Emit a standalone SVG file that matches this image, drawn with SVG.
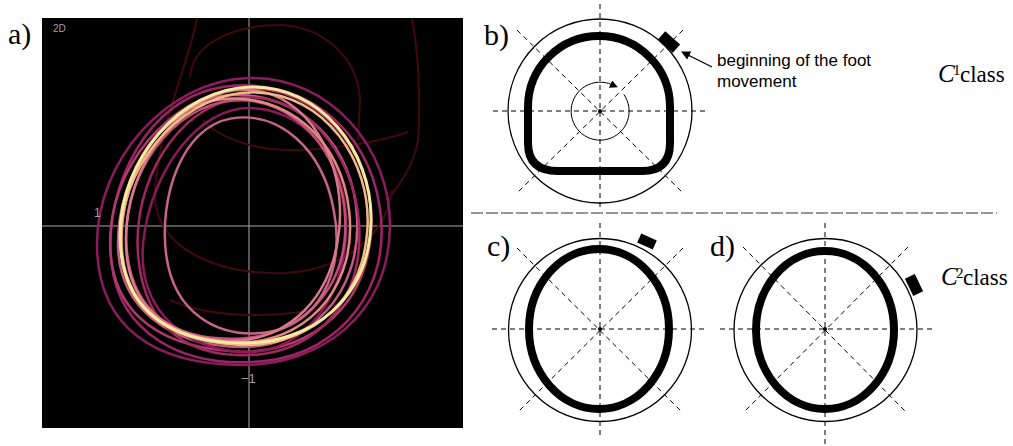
<svg xmlns="http://www.w3.org/2000/svg" width="1013" height="446" viewBox="0 0 1013 446">
<style>
.lbl{font-family:"Liberation Serif","Times New Roman","DejaVu Serif",serif;font-size:30px;fill:#000}
.sans{font-family:"Liberation Sans",Arial,sans-serif;font-size:17px;fill:#000}
.cls{font-family:"Liberation Serif","Times New Roman","DejaVu Serif",serif;fill:#000}
.dash{stroke:#000;stroke-width:1;stroke-dasharray:5 4;fill:none}
.outer{stroke:#000;stroke-width:1.3;fill:none}
.thick{stroke:#000;stroke-width:8;fill:none}
.ax{stroke:#a8a8a8;stroke-width:1}
.dim{stroke:#3e0a10;stroke-width:2;fill:none}
.axt{font-family:"Liberation Sans",Arial,sans-serif;fill:#a0a0a0}
</style>
<defs>
<path id="lp" d="M 250 87 C 320 85, 372 150, 371 220 C 370 300, 310 343, 245 343 C 170 343, 120 310, 120 235 C 120 160, 180 89, 250 87 Z" fill="none" vector-effect="non-scaling-stroke"/>
<path id="lq" d="M 240 90 C 310 88, 365 140, 368 215 C 372 290, 320 345, 250 345 C 175 345, 122 305, 122 240 C 122 170, 170 92, 240 90 Z" fill="none" vector-effect="non-scaling-stroke"/>
<marker id="ah" viewBox="0 0 10 10" refX="9" refY="5" markerWidth="9" markerHeight="9" markerUnits="userSpaceOnUse" orient="auto">
<path d="M0 0 L10 5 L0 10 Z" fill="#000"/>
</marker>
<marker id="ahs" viewBox="0 0 10 10" refX="2" refY="5" markerWidth="8" markerHeight="8" markerUnits="userSpaceOnUse" orient="auto">
<path d="M0 0 L10 5 L0 10 Z" fill="#000"/>
</marker>
</defs>
<rect width="1013" height="446" fill="#fff"/>

<g id="panel-a">
<rect x="42" y="18" width="421" height="410" fill="#000"/>
<line class="ax" x1="249" y1="18" x2="249" y2="428"/>
<line class="ax" x1="42" y1="226" x2="463" y2="226"/>
<g class="dim">
<path d="M 197 18 C 190 60, 160 120, 155 190 C 152 250, 220 275, 285 273 C 340 270, 385 240, 392 190"/>
<path d="M 190 77 C 192 45, 230 26, 277 25 C 320 25, 358 55, 360 100 L 358 140"/>
<path d="M 412 18 C 418 50, 421 100, 418 140 C 414 165, 400 185, 387 200"/>
<path d="M 408 132 C 380 142, 330 150, 290 150 C 250 150, 215 135, 203 120"/>
<path d="M 170 300 C 220 322, 300 318, 350 300"/>
</g>
<g stroke-width="2.5">
<use href="#lp" stroke="#8c1c5e" transform="translate(97,78) scale(1.167,1.121) translate(-120,-87)"/>
<use href="#lq" stroke="#9e2466" transform="rotate(-6 245 215) translate(105,82) scale(1.108,1.086) translate(-120,-87)"/>
<use href="#lp" stroke="#b03a6e" transform="rotate(4 245 215) translate(112,88) scale(1.036,1.031) translate(-120,-87)"/>
<use href="#lq" stroke="#c65a80" transform="translate(116,92) scale(0.972,0.988) translate(-120,-87)"/>
<use href="#lp" stroke="#a0285e" transform="rotate(-5 245 215) translate(135,98) scale(0.888,1.004) translate(-120,-87)"/>
<use href="#lq" stroke="#8a1a58" transform="rotate(6 245 215) translate(145,105) scale(0.817,0.957) translate(-120,-87)"/>
<use href="#lp" stroke="#c0507a" transform="rotate(-3 245 215) translate(125,100) scale(0.876,0.930) translate(-120,-87)"/>
<use href="#lq" stroke="#c8648a" transform="rotate(-8 245 215) translate(160,115) scale(0.70,0.85) translate(-120,-87)"/>
<use href="#lp" stroke="#d87a8a" transform="rotate(5 245 215) translate(128,90) scale(0.845,0.984) translate(-120,-87)"/>
<use href="#lq" stroke="#e08a80" transform="rotate(-4 245 215) translate(118,95) scale(0.932,0.957) translate(-120,-87)"/>
<use href="#lp" stroke="#f2b888" transform="rotate(3 245 215) translate(122,92) scale(0.980,0.988) translate(-120,-87)"/>
<use href="#lp" stroke="#f6ea9c" stroke-width="3" transform="translate(120,87) scale(1,1) translate(-120,-87)"/>
</g>
<text class="axt" x="53" y="32" font-size="10">2D</text>
<text class="axt" x="94" y="217" font-size="12">1</text>
<text class="axt" x="241" y="383" font-size="13">−1</text>
</g>

<g id="labels">
<text class="lbl" x="8" y="44">a)</text>
<text class="lbl" x="484" y="45">b)</text>
<text class="lbl" x="487" y="256">c)</text>
<text class="lbl" x="710" y="256">d)</text>
</g>

<g id="separator">
<line x1="471" y1="213" x2="997" y2="213" stroke="#333" stroke-width="1.2" stroke-dasharray="12 3"/>
</g>

<g id="panel-b">
<line class="dash" x1="600" y1="4" x2="600" y2="210"/>
<line class="dash" x1="493" y1="111" x2="707" y2="111"/>
<line class="dash" x1="517" y1="30" x2="683" y2="193"/>
<line class="dash" x1="683" y1="30" x2="517" y2="193"/>
<circle class="outer" cx="600" cy="111" r="92"/>
<path class="thick" d="M 528 107 A 71 71 0 0 1 670 107 L 670 143 Q 670 171 642 171 L 558 171 Q 528 171 528 143 Z"/>
<path d="M 623.8 94.4 A 29 29 0 1 1 612 84.7" fill="none" stroke="#000" stroke-width="1" marker-end="url(#ahs)"/>
<circle cx="600" cy="111" r="2" fill="#000"/>
<rect x="-10" y="-5.5" width="20" height="11" fill="#000" transform="translate(669,42) rotate(42)"/>
</g>

<g id="annotation">
<line x1="712" y1="67" x2="682" y2="52" stroke="#000" stroke-width="1.3" marker-end="url(#ah)"/>
<text class="sans" x="717" y="66">beginning of the foot</text>
<text class="sans" x="717" y="87">movement</text>
</g>

<g id="class1">
<text class="cls" x="938" y="82" font-size="25" font-style="italic">C</text>
<text class="cls" x="953" y="75" font-size="15">1</text>
<text class="cls" x="960" y="82" font-size="23">class</text>
</g>

<g id="panel-c">
<line class="dash" x1="600" y1="223" x2="600" y2="437"/>
<line class="dash" x1="492" y1="329" x2="707" y2="329"/>
<line class="dash" x1="517" y1="248" x2="683" y2="413"/>
<line class="dash" x1="683" y1="248" x2="517" y2="413"/>
<circle class="outer" cx="600" cy="330" r="91.5"/>
<ellipse class="thick" cx="599" cy="329" rx="70" ry="80"/>
<circle cx="600" cy="329" r="2" fill="#000"/>
<rect x="-8.5" y="-5" width="17" height="10" fill="#000" transform="translate(647,241.5) rotate(24)"/>
</g>

<g id="panel-d">
<line class="dash" x1="825" y1="223" x2="825" y2="446"/>
<line class="dash" x1="720" y1="329" x2="932" y2="329"/>
<line class="dash" x1="743" y1="247" x2="907" y2="413"/>
<line class="dash" x1="908" y1="247" x2="743" y2="413"/>
<circle class="outer" cx="825.5" cy="330" r="91.5"/>
<ellipse class="thick" cx="825" cy="330" rx="69" ry="79"/>
<circle cx="825" cy="329" r="2" fill="#000"/>
<rect x="-9.5" y="-5.5" width="19" height="11" fill="#000" transform="translate(914,285) rotate(64)"/>
</g>

<g id="class2">
<text class="cls" x="941" y="285" font-size="25" font-style="italic">C</text>
<text class="cls" x="956" y="278" font-size="15">2</text>
<text class="cls" x="963" y="285" font-size="23">class</text>
</g>
</svg>
